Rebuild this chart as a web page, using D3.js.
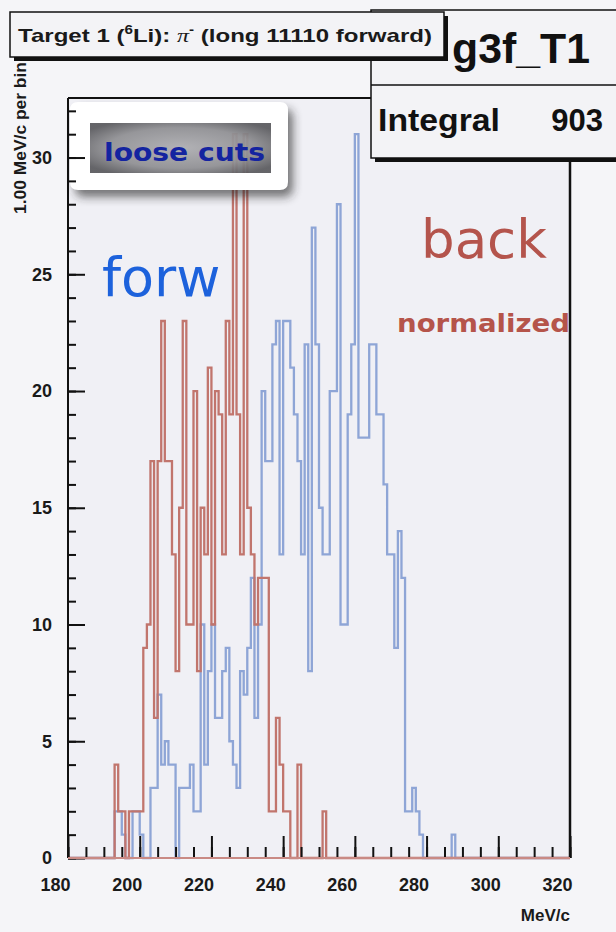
<!DOCTYPE html>
<html><head><meta charset="utf-8">
<script src="https://cdn.jsdelivr.net/npm/d3@7"></script>
<style>body{margin:0;background:#f5f5f8}svg{display:block}</style>
</head><body><svg id="c" width="616" height="932"></svg>
<script>
// ---- data (1 MeV/c bins, value = counts per bin, bin lower edges start at *Start) ----
const forwStart = 193;
const forwCounts = [2,2,1,0,0,2,2,1,0,0,3,3,7,4,5,4,4,
  0,3,3,3,4,2,2,
  10,4,8,10,6,6,8,9,5,4,3,8,7,9,12,6,10,
  20,17,17,22,23,13,23,23,21,19,17,13,22,8,27,22,15,
  13,13,20,20,28,10,10,19,22,31,18,18,18,22,22,19,19,
  16,13,13,9,14,12,2,2,3,2,1,0,0,0,0,0,0,0,0,1];
const backStart = 192;
const backCounts = [0,4,2,2,0,2,2,2,2,9,10,17,6,17,23,17,17,13,8,15,23,10,10,20,8,15,13,21,10,20,19,13,23,19,31,19,13,31,15,13,10,12,12,12,2,2,6,4,2,2,0,0,4,0,0,0,0,0,0,2];
const xTickLabels = [180,200,220,240,260,280,300,320];
const yTickLabels = [0,5,10,15,20,25,30];
const xRange = [180,320];
const yMax = 32.55;

const svg = d3.select('#c');
const x = d3.scaleLinear().domain(xRange).range([68,570]);
const y = d3.scaleLinear().domain([0,yMax]).range([858,98]);
const FONT = 'Liberation Sans, Arial, sans-serif';

const defs = svg.append('defs');
const sh = defs.append('filter').attr('id','lsh').attr('x','-20%').attr('y','-20%').attr('width','150%').attr('height','160%');
sh.append('feGaussianBlur').attr('stdDeviation',5);

// frame fill
svg.append('rect').attr('x',68).attr('y',98).attr('width',502).attr('height',760).attr('fill','#f0f0f5');

function histPath(start, counts){
  const pts = [[xRange[0],0]];
  counts.forEach((c,i)=>pts.push([start+i,c]));
  pts.push([start+counts.length,0]);
  pts.push([xRange[1],0]);
  return d3.line().x(d=>x(d[0])).y(d=>y(d[1])).curve(d3.curveStepAfter)(pts);
}
const hist = svg.append('g');
hist.append('path').attr('d',histPath(forwStart,forwCounts)).attr('fill','none').attr('stroke','#8ea5d6').attr('stroke-width',2.3);
hist.append('path').attr('d',histPath(backStart,backCounts)).attr('fill','none').attr('stroke','#c1756d').attr('stroke-width',2.3);

// legend box
svg.append('rect').attr('x',75).attr('y',109).attr('width',218).attr('height',88).attr('rx',8)
  .attr('fill','#222').attr('opacity',0.6).attr('filter','url(#lsh)');
svg.append('path').attr('fill-rule','evenodd').attr('fill','#ffffff')
  .attr('d','M78,102 H280 Q288,102 288,110 V182 Q288,190 280,190 H78 Q70,190 70,182 V110 Q70,102 78,102 Z M90,123 V173 H271 V123 Z');
const g = defs.append('radialGradient').attr('id','gg').attr('cx','50%').attr('cy','50%').attr('r','62%');
g.append('stop').attr('offset','0%').attr('stop-color','#bdbdc1');
g.append('stop').attr('offset','65%').attr('stop-color','#9c9ca0');
g.append('stop').attr('offset','100%').attr('stop-color','#626266');
svg.append('rect').attr('x',90).attr('y',123).attr('width',181).attr('height',50).attr('fill','url(#gg)').attr('opacity',0.85);
svg.append('text').attr('x',104).attr('y',161).attr('font-family','DejaVu Sans').attr('font-weight','bold')
  .attr('font-size',25).attr('fill','#1424a0').attr('textLength',161).attr('lengthAdjust','spacingAndGlyphs').text('loose cuts');

// axes
const yMinor = d3.axisLeft(y).tickValues(d3.range(0,33,1)).tickSize(-8).tickFormat('');
const yMajor = d3.axisLeft(y).tickValues(yTickLabels).tickSize(-17).tickPadding(16);
const xMinor = d3.axisBottom(x).tickValues(d3.range(180,321,5)).tickSize(-11).tickFormat('');
const xMajor = d3.axisBottom(x).tickValues(xTickLabels).tickSize(-22).tickPadding(20);
function styleAxis(sel){
  sel.select('.domain').remove();
  sel.selectAll('line').attr('stroke','#111').attr('stroke-width',2);
  sel.selectAll('text').attr('font-family',FONT).attr('font-weight','bold').attr('font-size',18).attr('fill','#1a1a1a');
}
svg.append('g').attr('transform','translate(68,0)').call(yMinor).call(styleAxis);
svg.append('g').attr('transform','translate(68,0)').call(yMajor).call(styleAxis);
svg.append('g').attr('transform','translate(0,858)').call(xMinor).call(styleAxis);
const xa = svg.append('g').attr('transform','translate(0,858)').call(xMajor).call(styleAxis);
xa.selectAll('text').attr('dx',-13);

// frame
svg.append('line').attr('x1',68).attr('x2',68).attr('y1',98).attr('y2',858).attr('stroke','#111').attr('stroke-width',2);
svg.append('line').attr('x1',68).attr('x2',570).attr('y1',98).attr('y2',98).attr('stroke','#111').attr('stroke-width',2);
svg.append('line').attr('x1',570).attr('x2',570).attr('y1',98).attr('y2',858).attr('stroke','#111').attr('stroke-width',2.5);
svg.append('line').attr('x1',68).attr('x2',570).attr('y1',858).attr('y2',858).attr('stroke','#111').attr('stroke-width',2);
svg.append('line').attr('x1',68).attr('x2',570).attr('y1',858).attr('y2',858).attr('stroke','#c98a84').attr('stroke-width',2);

// axis titles
svg.append('text').attr('transform','translate(26,62) rotate(-90)').attr('text-anchor','end')
  .attr('font-family',FONT).attr('font-weight','bold').attr('font-size',16.5).attr('fill','#1a1a1a')
  .attr('textLength',152).attr('lengthAdjust','spacingAndGlyphs').text('1.00 MeV/c per bin');
svg.append('text').attr('x',570).attr('y',921).attr('text-anchor','end')
  .attr('font-family',FONT).attr('font-weight','bold').attr('font-size',17).attr('fill','#1a1a1a').text('MeV/c');

// annotations
svg.append('text').attr('x',102).attr('y',296).attr('font-family','DejaVu Sans').attr('font-size',54).attr('fill','#1d62dc').text('forw');
svg.append('text').attr('x',421).attr('y',258).attr('font-family','DejaVu Sans').attr('font-size',53).attr('fill','#b4544c').text('back');
svg.append('text').attr('x',397).attr('y',332).attr('font-family','DejaVu Sans').attr('font-weight','bold').attr('font-size',24)
  .attr('fill','#b5544a').attr('textLength',173).attr('lengthAdjust','spacingAndGlyphs').text('normalized');

// stats box
svg.append('rect').attr('x',375).attr('y',14).attr('width',260).attr('height',148).attr('fill','#111');
svg.append('rect').attr('x',371).attr('y',10).attr('width',260).attr('height',148).attr('fill','#f3f3f6').attr('stroke','#111').attr('stroke-width',1.5);
svg.append('line').attr('x1',371).attr('x2',616).attr('y1',85).attr('y2',85).attr('stroke','#111').attr('stroke-width',1.5);
svg.append('text').attr('x',452).attr('y',63).attr('font-family',FONT).attr('font-weight','bold').attr('font-size',43).attr('fill','#111')
  .attr('textLength',138).attr('lengthAdjust','spacingAndGlyphs').text('g3f_T1');
svg.append('text').attr('x',378).attr('y',131).attr('font-family',FONT).attr('font-weight','bold').attr('font-size',31)
  .attr('fill','#111').attr('textLength',122).attr('lengthAdjust','spacingAndGlyphs').text('Integral');
svg.append('text').attr('x',603).attr('y',131).attr('text-anchor','end').attr('font-family',FONT).attr('font-weight','bold').attr('font-size',31).attr('fill','#111').text('903');

// title box
svg.append('rect').attr('x',14).attr('y',16).attr('width',434).attr('height',45).attr('fill','#111');
svg.append('rect').attr('x',10).attr('y',12).attr('width',434).attr('height',45).attr('fill','#f3f3f6').attr('stroke','#111').attr('stroke-width',1.5);
const t = svg.append('text').attr('x',18).attr('y',42).attr('font-family',FONT).attr('font-weight','bold').attr('font-size',19).attr('fill','#1a1a1a')
  .attr('textLength',414).attr('lengthAdjust','spacingAndGlyphs');
t.append('tspan').text('Target 1 (');
t.append('tspan').attr('font-size',12).attr('dy',-8).text('6');
t.append('tspan').attr('dy',8).text('Li): ');
t.append('tspan').attr('font-family','Liberation Serif, serif').attr('font-style','italic').attr('font-weight','normal').text('π');
t.append('tspan').attr('font-size',12).attr('dy',-8).text('-');
t.append('tspan').attr('dy',8).text(' (long 11110 forward)');
</script></body></html>
